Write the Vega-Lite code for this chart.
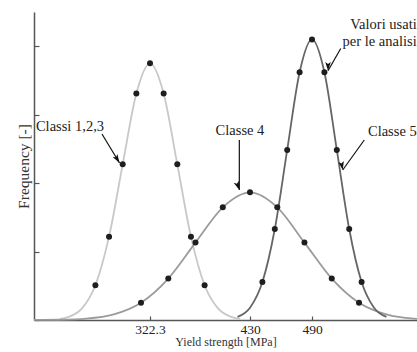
{
  "$schema": "https://vega.github.io/schema/vega-lite/v6.json",
  "autosize": {"type": "none"},
  "padding": {"left": 34, "top": 12, "right": 0, "bottom": 32},
  "width": 383,
  "height": 308,
  "config": {"view": {"stroke": null}, "font": "Liberation Serif"},
  "datasets": {
    "curves": [
      {"classe": "Classi 1,2,3", "strength": 225.3, "frequency": 0.032, "marker": 0},
      {"classe": "Classi 1,2,3", "strength": 234.1, "frequency": 0.083, "marker": 0},
      {"classe": "Classi 1,2,3", "strength": 248.8, "frequency": 0.33, "marker": 0},
      {"classe": "Classi 1,2,3", "strength": 263.5, "frequency": 1.015, "marker": 1},
      {"classe": "Classi 1,2,3", "strength": 278.2, "frequency": 2.435, "marker": 1},
      {"classe": "Classi 1,2,3", "strength": 292.9, "frequency": 4.549, "marker": 1},
      {"classe": "Classi 1,2,3", "strength": 307.6, "frequency": 6.619, "marker": 1},
      {"classe": "Classi 1,2,3", "strength": 322.3, "frequency": 7.5, "marker": 1},
      {"classe": "Classi 1,2,3", "strength": 337.0, "frequency": 6.619, "marker": 1},
      {"classe": "Classi 1,2,3", "strength": 351.7, "frequency": 4.549, "marker": 1},
      {"classe": "Classi 1,2,3", "strength": 366.4, "frequency": 2.435, "marker": 1},
      {"classe": "Classi 1,2,3", "strength": 381.1, "frequency": 1.015, "marker": 1},
      {"classe": "Classi 1,2,3", "strength": 395.8, "frequency": 0.33, "marker": 0},
      {"classe": "Classi 1,2,3", "strength": 410.5, "frequency": 0.083, "marker": 0},
      {"classe": "Classi 1,2,3", "strength": 419.3, "frequency": 0.032, "marker": 0},
      {"classe": "Classe 4", "strength": 197.4, "frequency": 0.0015, "marker": 0},
      {"classe": "Classe 4", "strength": 224.6, "frequency": 0.008, "marker": 0},
      {"classe": "Classe 4", "strength": 253.9, "frequency": 0.041, "marker": 0},
      {"classe": "Classe 4", "strength": 283.3, "frequency": 0.164, "marker": 0},
      {"classe": "Classe 4", "strength": 312.6, "frequency": 0.505, "marker": 1},
      {"classe": "Classe 4", "strength": 342.0, "frequency": 1.211, "marker": 1},
      {"classe": "Classe 4", "strength": 371.3, "frequency": 2.262, "marker": 1},
      {"classe": "Classe 4", "strength": 400.7, "frequency": 3.292, "marker": 1},
      {"classe": "Classe 4", "strength": 430.0, "frequency": 3.73, "marker": 1},
      {"classe": "Classe 4", "strength": 456.4, "frequency": 3.292, "marker": 1},
      {"classe": "Classe 4", "strength": 482.7, "frequency": 2.262, "marker": 1},
      {"classe": "Classe 4", "strength": 509.1, "frequency": 1.211, "marker": 1},
      {"classe": "Classe 4", "strength": 535.5, "frequency": 0.505, "marker": 1},
      {"classe": "Classe 4", "strength": 561.9, "frequency": 0.164, "marker": 0},
      {"classe": "Classe 4", "strength": 588.2, "frequency": 0.041, "marker": 0},
      {"classe": "Classe 4", "strength": 591.6, "frequency": 0.035, "marker": 0},
      {"classe": "Classe 5", "strength": 416.6, "frequency": 0.091, "marker": 0},
      {"classe": "Classe 5", "strength": 430.0, "frequency": 0.36, "marker": 0},
      {"classe": "Classe 5", "strength": 442.0, "frequency": 1.11, "marker": 1},
      {"classe": "Classe 5", "strength": 454.0, "frequency": 2.66, "marker": 1},
      {"classe": "Classe 5", "strength": 466.0, "frequency": 4.97, "marker": 1},
      {"classe": "Classe 5", "strength": 478.0, "frequency": 7.24, "marker": 1},
      {"classe": "Classe 5", "strength": 490.0, "frequency": 8.2, "marker": 1},
      {"classe": "Classe 5", "strength": 502.0, "frequency": 7.24, "marker": 1},
      {"classe": "Classe 5", "strength": 514.0, "frequency": 4.97, "marker": 1},
      {"classe": "Classe 5", "strength": 526.0, "frequency": 2.66, "marker": 1},
      {"classe": "Classe 5", "strength": 538.0, "frequency": 1.11, "marker": 1},
      {"classe": "Classe 5", "strength": 550.0, "frequency": 0.36, "marker": 0},
      {"classe": "Classe 5", "strength": 562.0, "frequency": 0.091, "marker": 0}
    ],
    "labels": [
      {"text": "Classi 1,2,3", "strength": 199.5, "frequency": 5.64},
      {"text": "Classe 4", "strength": 419.2, "frequency": 5.53},
      {"text": "Classe 5", "strength": 591.3, "frequency": 5.5},
      {"text": "Valori usati", "strength": 591.3, "frequency": 8.62},
      {"text": "per le analisi", "strength": 591.3, "frequency": 8.115}
    ],
    "arrows": [
      {"label": "Classi 1,2,3", "strength": 289.5, "frequency": 4.588, "strength_start": 270.6, "frequency_start": 5.435},
      {"label": "Classe 4", "strength": 418.5, "frequency": 3.8, "strength_start": 418.5, "frequency_start": 5.26},
      {"label": "Classe 5", "strength": 519.7, "frequency": 4.383, "strength_start": 540.6, "frequency_start": 5.26},
      {"label": "Valori usati", "strength": 505.5, "frequency": 7.285, "strength_start": 517.8, "frequency_start": 7.934}
    ]
  },
  "layer": [
    {
      "data": {"name": "curves"},
      "mark": {"type": "line", "interpolate": "monotone", "strokeWidth": 1.8},
      "encoding": {
        "x": {
          "field": "strength", "type": "quantitative",
          "scale": {"domain": [197.4, 322.3, 430, 591.6], "range": [0, 116, 216, 383], "nice": false, "zero": false},
          "axis": {
            "title": "Yield strength [MPa]", "values": [322.3, 430, 490], "labelExpr": "'' + datum.value",
            "tickSize": -4, "labelPadding": 6, "labelFontSize": 13.5, "labelFont": "Liberation Serif", "labelColor": "#222",
            "titleFont": "Liberation Serif", "titleFontSize": 12, "titleFontWeight": "normal", "titleColor": "#333", "titlePadding": 1,
            "domainColor": "#555", "tickColor": "#555", "domainWidth": 1.5, "tickWidth": 1.2, "grid": false
          }
        },
        "y": {
          "field": "frequency", "type": "quantitative",
          "scale": {"domain": [0, 9], "nice": false, "zero": true},
          "axis": {
            "title": "Frequency [-]", "labels": false, "values": [0, 1, 2, 3, 4, 5, 6, 7, 8, 9],
            "tickSize": -5, "domainColor": "#555", "tickColor": "#555", "domainWidth": 1.5, "tickWidth": 1.2,
            "titleFont": "Liberation Serif", "titleFontSize": 15.5, "titleFontWeight": "normal", "titleColor": "#333", "titlePadding": 2, "grid": false
          }
        },
        "color": {
          "field": "classe", "type": "nominal",
          "scale": {"domain": ["Classi 1,2,3", "Classe 4", "Classe 5"], "range": ["#c8c8c8", "#9b9b9b", "#666666"]},
          "legend": null
        }
      }
    },
    {
      "data": {"name": "curves"},
      "transform": [{"filter": "datum.marker == 1"}],
      "mark": {"type": "point", "filled": true, "size": 36, "color": "#1e1e1e", "opacity": 1},
      "encoding": {
        "x": {"field": "strength", "type": "quantitative"},
        "y": {"field": "frequency", "type": "quantitative"}
      }
    },
    {
      "data": {"name": "arrows"},
      "mark": {"type": "rule", "color": "#111", "strokeWidth": 1.2},
      "encoding": {
        "x": {"field": "strength", "type": "quantitative"},
        "y": {"field": "frequency", "type": "quantitative"},
        "x2": {"field": "strength_start"},
        "y2": {"field": "frequency_start"}
      }
    },
    {
      "data": {"name": "arrows"},
      "mark": {"type": "point", "shape": "M0,0 L-0.35,1.1 L0,0.85 L0.35,1.1 Z", "filled": true, "size": 250, "color": "#111", "opacity": 1},
      "encoding": {
        "x": {"field": "strength", "type": "quantitative"},
        "y": {"field": "frequency", "type": "quantitative"},
        "angle": {
          "field": "label", "type": "ordinal",
          "scale": {"domain": ["Classi 1,2,3", "Classe 4", "Classe 5", "Valori usati"], "range": [148.9, 180, 215.8, 209.8]},
          "legend": null
        }
      }
    },
    {
      "data": {"name": "labels"},
      "transform": [{"filter": "datum.text == 'Classi 1,2,3'"}],
      "mark": {"type": "text", "fontSize": 14.5, "baseline": "middle", "align": "left", "color": "#222", "font": "Liberation Serif"},
      "encoding": {
        "x": {"field": "strength", "type": "quantitative"},
        "y": {"field": "frequency", "type": "quantitative"},
        "text": {"field": "text"}
      }
    },
    {
      "data": {"name": "labels"},
      "transform": [{"filter": "datum.text == 'Classe 4'"}],
      "mark": {"type": "text", "fontSize": 14.5, "baseline": "middle", "align": "center", "color": "#222", "font": "Liberation Serif"},
      "encoding": {
        "x": {"field": "strength", "type": "quantitative"},
        "y": {"field": "frequency", "type": "quantitative"},
        "text": {"field": "text"}
      }
    },
    {
      "data": {"name": "labels"},
      "transform": [{"filter": "datum.text != 'Classe 4' && datum.text != 'Classi 1,2,3'"}],
      "mark": {"type": "text", "fontSize": 14.5, "baseline": "middle", "align": "right", "color": "#222", "font": "Liberation Serif"},
      "encoding": {
        "x": {"field": "strength", "type": "quantitative"},
        "y": {"field": "frequency", "type": "quantitative"},
        "text": {"field": "text"}
      }
    }
  ]
}
